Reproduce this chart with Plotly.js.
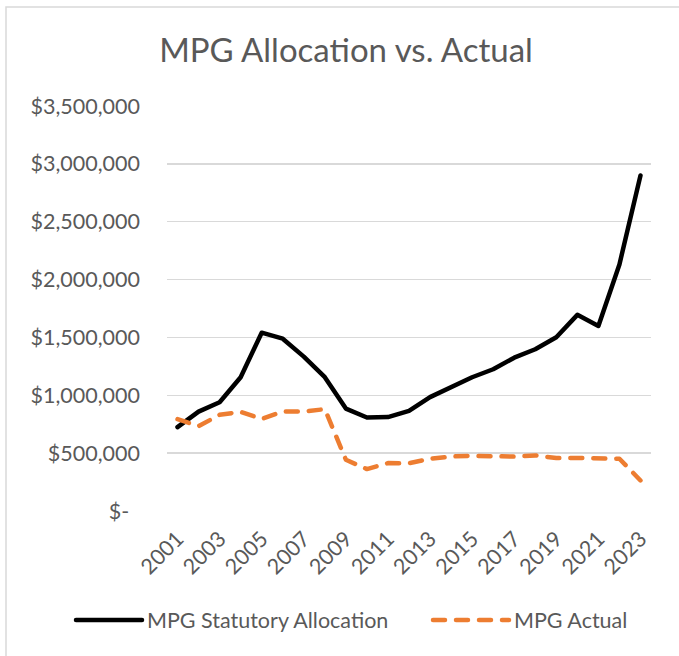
<!DOCTYPE html>
<html>
<head>
<meta charset="utf-8">
<script src="https://cdn.plot.ly/plotly-3.0.1.min.js"></script>
<style>
  html, body { margin: 0; padding: 0; background: #fff; }
  #chart { width: 679px; height: 656px; }
  #chart path.js-line { stroke-linecap: round; stroke-linejoin: round; }
  #chart .legendlines path { stroke-linecap: round; }
</style>
</head>
<body>
<div id="chart"></div>
<script>
const years = [2001,2002,2003,2004,2005,2006,2007,2008,2009,2010,2011,2012,2013,2014,2015,2016,2017,2018,2019,2020,2021,2022,2023];
const statutoryAllocation = [725000,859000,940000,1156000,1541000,1489000,1334000,1156000,885000,808000,812000,865000,984000,1066000,1156000,1225000,1325000,1398000,1501000,1695000,1599000,2131000,2899000];
const actual = [794000,733000,831000,857000,795000,860000,860000,880000,443000,362000,414000,413000,451000,471000,477000,477000,470000,480000,458000,458000,458000,452000,264000];
const seriesNames = ["MPG Statutory Allocation", "MPG Actual"];
const xTickYears = [2001,2003,2005,2007,2009,2011,2013,2015,2017,2019,2021,2023];
const yTickValues = [0,500000,1000000,1500000,2000000,2500000,3000000,3500000];
const yTickLabels = ["$-\u2002","$500,000","$1,000,000","$1,500,000","$2,000,000","$2,500,000","$3,000,000","$3,500,000"];
const chartTitle = "MPG Allocation vs. Actual";

const FONT = "Lato, 'Open Sans', sans-serif";
const GREY = "#595959";

// plot area in pixels
const L = 167, R = 651, T = 106, B = 511;
const pw = R - L, ph = B - T;
const px = x => (x - L) / pw;
const py = y => (B - y) / ph;

const traces = [
  {
    x: years, y: statutoryAllocation, name: seriesNames[0],
    type: "scatter", mode: "lines", legend: "legend",
    line: { color: "#000000", width: 4.5 }
  },
  {
    x: years, y: actual, name: seriesNames[1],
    type: "scatter", mode: "lines", legend: "legend2",
    line: { color: "#ED7D31", width: 4.5, dash: "12px,11px" }
  }
];

const legendBase = {
  orientation: "h",
  xanchor: "left",
  y: py(620), yanchor: "middle",
  font: { family: FONT, size: 21.5, color: GREY },
  itemwidth: 66,
  bgcolor: "rgba(0,0,0,0)"
};

const layout = {
  width: 679, height: 656,
  margin: { l: L, r: 679 - R, t: T, b: 656 - B, pad: 0, autoexpand: false },
  paper_bgcolor: "#ffffff", plot_bgcolor: "#ffffff",
  font: { family: FONT, color: GREY, size: 21.5 },
  title: {
    text: chartTitle,
    font: { family: FONT, size: 33, color: GREY },
    x: 346 / 679, xref: "container", xanchor: "center",
    y: 1 - 50 / 656, yref: "container", yanchor: "middle",
    automargin: false
  },
  xaxis: {
    type: "linear",
    range: [2000.5, 2023.5],
    tickmode: "array", tickvals: xTickYears, ticktext: xTickYears.map(String),
    tickangle: -45,
    showgrid: false, zeroline: false, showline: false, ticks: "",
    ticklabelstandoff: 10,
    automargin: false,
    tickfont: { family: FONT, size: 21.5, color: GREY },
    fixedrange: true
  },
  yaxis: {
    range: [0, 3500000],
    tickmode: "array", tickvals: yTickValues, ticktext: yTickLabels,
    showgrid: true, gridcolor: "#D9D9D9", gridwidth: 1.3,
    zeroline: false, showline: false, ticks: "",
    ticklabelstandoff: 26,
    automargin: false,
    tickfont: { family: FONT, size: 21.5, color: GREY },
    fixedrange: true
  },
  showlegend: true,
  legend: Object.assign({}, legendBase, { x: px(71) }),
  legend2: Object.assign({}, legendBase, { x: px(428), itemwidth: 76 }),
  shapes: [
    {
      type: "rect", xref: "paper", yref: "paper",
      x0: px(6), x1: px(700), y0: py(7), y1: py(700),
      line: { color: "#D9D9D9", width: 1.5 },
      fillcolor: "rgba(0,0,0,0)", layer: "below"
    }
  ]
};

Plotly.newPlot("chart", traces, layout, { displayModeBar: false, staticPlot: true });
</script>
</body>
</html>
